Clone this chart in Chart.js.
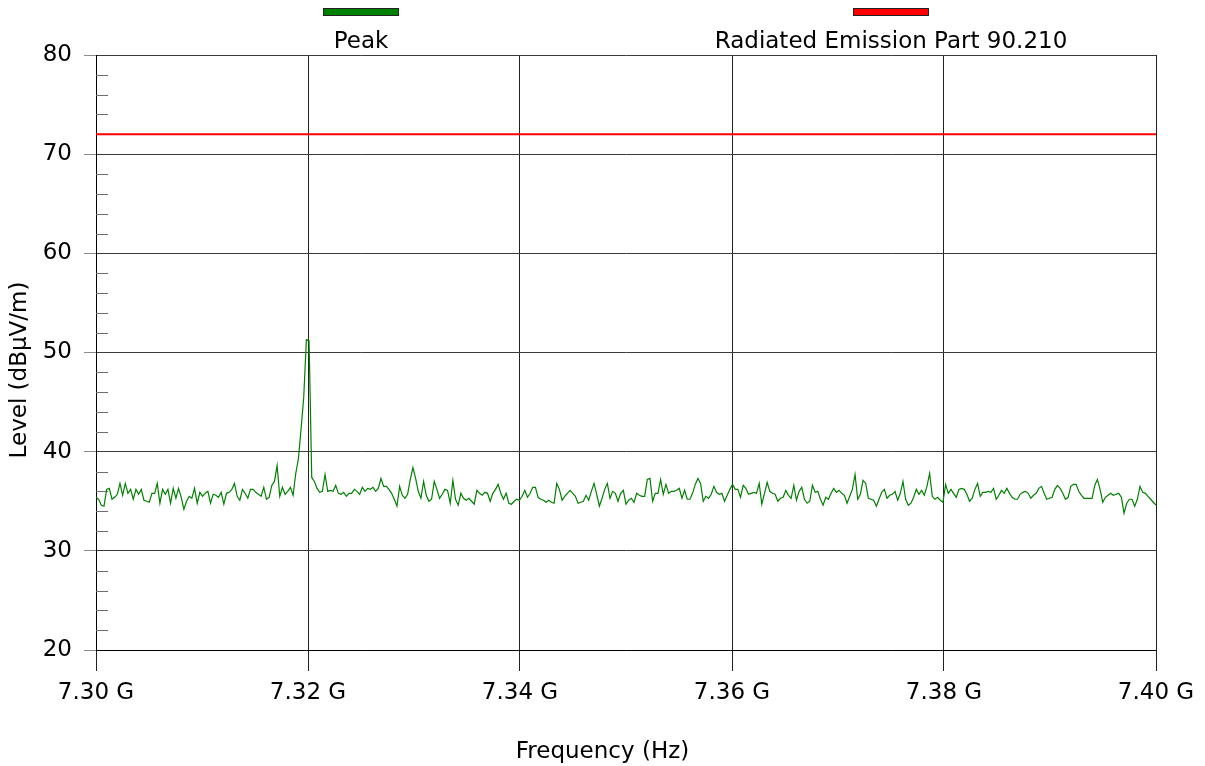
<!DOCTYPE html>
<html>
<head>
<meta charset="utf-8">
<title>Radiated Emission</title>
<script src="https://cdn.jsdelivr.net/npm/chart.js@4.4.1/dist/chart.umd.min.js"></script>
<style>
  html, body { margin: 0; padding: 0; background: #fff; }
  canvas { display: block; }
</style>
</head>
<body>
<canvas id="chart" width="1205" height="766"></canvas>
<script>
// Sweep range (GHz) and axis ticks
const START_GHZ = 7.30;
const STOP_GHZ = 7.40;
const X_TICKS = [7.30, 7.32, 7.34, 7.36, 7.38, 7.40];
const Y_TICKS = [20, 30, 40, 50, 60, 70, 80];
const SERIES_NAMES = ['Peak', 'Radiated Emission Part 90.210'];

// Limit line level (dBµV/m)
const LIMIT_LEVEL = 72;

// Peak trace, evenly spaced sweep points (dBµV/m)
const PEAK_LEVELS = [
  35.4, 35.2, 34.6, 34.5, 36.2, 36.3, 35.2, 35.4, 35.7, 36.8, 35.6, 36.8, 35.8, 36.2, 35.2, 36.2, 35.7, 36.2, 35.1, 35.0,
  34.9, 35.8, 35.8, 36.8, 34.8, 36.2, 35.7, 36.2, 34.8, 36.3, 35.3, 36.3, 35.4, 34.2, 35.0, 35.5, 35.3, 36.3, 34.8, 35.9,
  35.5, 35.8, 36.0, 34.8, 35.7, 35.6, 35.4, 35.9, 34.7, 35.8, 35.9, 36.2, 36.8, 35.5, 35.1, 36.2, 35.8, 35.3, 36.2, 36.2,
  35.9, 35.7, 35.5, 36.4, 35.2, 35.4,
  36.6, 37.0, 38.6, 35.5, 36.4, 35.7, 36.0, 36.4, 35.6, 37.8, 39.3, 42.3, 45.5, 51.3, 51.2, 37.4, 37.0, 36.3, 35.9, 36.0,
  37.7, 36.0, 36.1, 36.0, 36.6, 35.8, 35.7, 35.9, 35.5, 35.8, 35.8, 36.2, 36.0, 35.7, 36.4, 36.0, 36.3, 36.2, 36.4, 36.0,
  36.3, 37.3, 36.5, 36.5,
  36.2, 35.8, 35.2, 34.5, 36.5, 35.6, 35.3, 35.7, 37.2, 38.4, 37.3, 36.0, 35.3, 37.0, 35.6, 35.0, 35.2, 37.0, 36.2, 35.3,
  35.7, 36.2, 36.1, 34.8, 37.1, 35.2, 34.6, 35.8, 35.3, 35.1, 35.3, 35.0, 34.7, 36.1, 35.8, 35.6, 35.9, 35.8, 35.0, 35.8,
  36.2, 36.7, 35.8, 35.2, 35.8, 34.8, 34.7, 35.0, 35.2, 35.1, 35.5, 36.1, 35.4, 35.8, 36.4, 36.4, 35.4, 35.2, 35.1, 34.9,
  35.1, 34.9, 34.8, 36.8, 36.2,
  35.1, 35.5, 35.8, 36.1, 35.8, 35.5, 34.8, 34.9, 35.0, 35.6, 35.1, 36.0, 36.8, 35.7, 34.5, 35.3, 36.2, 36.8, 35.3, 36.0,
  35.8, 35.0, 35.8, 36.1, 34.7, 35.1, 35.3, 34.9, 35.8, 35.6, 35.5, 35.5, 37.2, 37.3, 35.0, 35.8, 35.8, 37.2, 35.7, 36.7,
  35.8, 36.0, 36.0, 36.1, 36.3, 35.3, 36.1, 35.2, 35.2, 35.8, 36.7, 37.3, 36.8, 35.0, 35.5, 35.3, 35.7, 36.5, 35.9, 35.7,
  35.8, 35.0, 35.6, 36.2, 36.7,
  36.2, 36.2, 35.4, 36.6, 36.3, 35.7, 35.8, 35.9, 35.8, 36.8, 34.7, 35.8, 36.9, 36.0, 35.8, 35.7, 35.0, 35.3, 35.4, 36.1,
  35.6, 35.3, 36.6, 35.1, 36.0, 36.4, 35.2, 34.8, 35.0, 36.6, 35.9, 36.0, 35.2, 34.6, 35.4, 35.2, 35.8, 36.3, 35.9, 36.1,
  35.8, 35.6, 34.8, 35.5, 36.2, 37.7, 35.2, 35.7, 37.1, 36.8, 35.3, 35.2, 35.1, 34.5, 35.2, 35.9, 36.2, 35.3, 35.6, 35.7,
  36.0, 35.1, 35.8, 37.0, 35.2, 34.6,
  34.8, 35.4, 36.2, 35.7, 36.1, 35.6, 36.5, 37.8, 35.5, 35.2, 35.4, 35.1, 34.9, 36.7, 35.8, 36.2, 35.8, 35.4, 36.2, 36.3,
  36.2, 35.7, 35.0, 35.3, 36.2, 36.8, 35.5, 35.9, 35.9, 36.0, 35.9, 36.3, 35.2, 35.6, 36.1, 35.8, 36.3, 35.8, 35.4, 35.2,
  35.2, 35.7, 35.9, 36.0, 35.8, 35.3, 35.6, 35.8, 36.3, 36.5, 35.8, 35.2, 35.3, 35.4, 36.2, 36.6, 36.3, 35.8, 35.2, 35.4,
  36.5, 36.7, 36.7, 36.0, 35.6, 35.3,
  35.3, 35.3, 35.3, 36.6, 37.2, 36.2, 34.9, 35.4, 35.6, 35.8, 35.6, 35.7, 35.8, 35.4, 33.8, 34.8, 35.2, 35.2, 34.5, 35.2,
  36.5, 35.9, 35.8, 35.5, 35.2, 34.9, 34.6
];

const FONT = 'DejaVu Sans, Verdana, sans-serif';
const FONT_SIZE = 23;
const PEAK_COLOR = '#008000';
const LIMIT_COLOR = '#ff0000';

const sweepStep = (STOP_GHZ - START_GHZ) / (PEAK_LEVELS.length - 1);
const peakPoints = PEAK_LEVELS.map((v, i) => ({ x: START_GHZ + i * sweepStep, y: v }));
const limitPoints = [{ x: START_GHZ, y: LIMIT_LEVEL }, { x: STOP_GHZ, y: LIMIT_LEVEL }];

// Minor ticks, legend bars and axis titles the way the receiver software draws them
const decorations = {
    id: 'decorations',
    beforeDatasetsDraw(chart) {
        const { ctx, chartArea, scales } = chart;
        const y = scales.y;
        ctx.save();
        ctx.strokeStyle = '#6e6e6e';
        ctx.lineWidth = 1;
        for (let v = y.min; v <= y.max; v += 2) {
            if (v % 10 === 0) continue;
            const py = Math.round(y.getPixelForValue(v)) + 0.5;
            ctx.beginPath();
            ctx.moveTo(chartArea.left, py);
            ctx.lineTo(chartArea.left + 12, py);
            ctx.stroke();
        }
        ctx.restore();
    },
    afterDraw(chart) {
        const { ctx, chartArea } = chart;
        const w = chartArea.right - chartArea.left;
        ctx.save();
        ctx.font = FONT_SIZE + 'px ' + FONT;
        ctx.fillStyle = '#000';
        ctx.textAlign = 'center';
        ctx.textBaseline = 'alphabetic';

        chart.data.datasets.forEach((ds, i) => {
            const cx = chartArea.left + w * (i === 0 ? 0.25 : 0.75);
            ctx.fillStyle = ds.borderColor;
            ctx.fillRect(cx - 38, 8, 76, 8);
            ctx.strokeStyle = '#222';
            ctx.lineWidth = 1;
            ctx.strokeRect(cx - 38 + 0.5, 8.5, 75, 7);
            ctx.fillStyle = '#000';
            ctx.fillText(ds.label, cx, 48);
        });

        // axis titles
        ctx.fillText('Frequency (Hz)', chart.width / 2, 758);
        ctx.translate(26, 370);
        ctx.rotate(-Math.PI / 2);
        ctx.fillText('Level (dBµV/m)', 0, 0);
        ctx.restore();
    }
};

const ctx = document.getElementById('chart').getContext('2d');
new Chart(ctx, {
    type: 'line',
    data: {
        datasets: [{
            label: SERIES_NAMES[0],
            data: peakPoints,
            borderColor: PEAK_COLOR,
            borderWidth: 1.2,
            pointRadius: 0,
            tension: 0
        }, {
            label: SERIES_NAMES[1],
            data: limitPoints,
            borderColor: LIMIT_COLOR,
            borderWidth: 2,
            pointRadius: 0
        }]
    },
    options: {
        responsive: false,
        animation: false,
        layout: { padding: { left: 0, top: 55, right: 49, bottom: 0 } },
        plugins: {
            legend: { display: false },
            tooltip: { enabled: false }
        },
        scales: {
            x: {
                type: 'linear',
                min: START_GHZ,
                max: STOP_GHZ,
                afterBuildTicks: s => { s.ticks = X_TICKS.map(v => ({ value: v })); },
                afterFit: s => { s.height = 116; },
                grid: { color: '#222', lineWidth: 1, tickLength: 21, tickColor: '#222' },
                border: { color: '#000', width: 1 },
                ticks: {
                    color: '#000',
                    font: { family: FONT, size: FONT_SIZE },
                    padding: 8,
                    maxRotation: 0,
                    autoSkip: false,
                    callback: value => `${Number(value).toFixed(2)} G`
                }
            },
            y: {
                min: 20,
                max: 80,
                afterBuildTicks: s => { s.ticks = Y_TICKS.map(v => ({ value: v })); },
                afterFit: s => { s.width = 96; },
                grid: { color: '#3a3a3a', lineWidth: 1, tickLength: 12, tickColor: '#8a8a8a' },
                border: { color: '#000', width: 1 },
                ticks: {
                    color: '#000',
                    font: { family: FONT, size: FONT_SIZE },
                    padding: 12
                }
            }
        }
    },
    plugins: [decorations]
});
</script>
</body>
</html>
